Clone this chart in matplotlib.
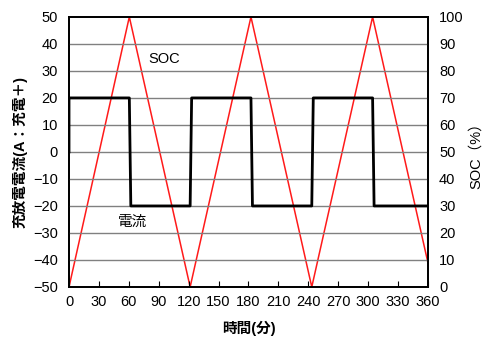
import matplotlib
matplotlib.use("Agg")
import matplotlib.pyplot as plt

plt.rcParams["font.family"] = ["Liberation Sans", "Noto Sans CJK JP", "DejaVu Sans"]

# time in minutes
t_soc = [0, 60.5, 121.5, 182.5, 243.5, 304.5, 360]
soc = [0, 100, 0, 100, 0, 100, 9]

t_cur = [0, 0, 60.5, 62, 121.5, 123, 182.5, 184, 243.5, 245, 304.5, 306, 360]
cur = [0, 20, 20, -20, -20, 20, 20, -20, -20, 20, 20, -20, -20]

x_ticks = list(range(0, 361, 30))
left_ticks = list(range(-50, 51, 10))
right_ticks = list(range(0, 101, 10))

fig = plt.figure(figsize=(4.87, 3.38), dpi=100)
ax = fig.add_axes([0.1417, 0.151, 0.737, 0.799])
ax2 = ax.twinx()

ax.set_zorder(ax2.get_zorder() + 1)
ax.patch.set_visible(False)

for y in left_ticks[1:-1]:
    ax.axhline(y, color="#808080", lw=1.0, zorder=0)

ax.plot(t_cur, cur, color="black", lw=2.0, zorder=3)
ax2.plot(t_soc, soc, color="#ff1a1a", lw=1.1)

ax.set_xlim(0, 360)
ax.set_ylim(-50, 50)
ax2.set_ylim(0, 100)
ax.set_xticks(x_ticks)
ax.set_yticks(left_ticks)
ax2.set_yticks(right_ticks)

ax.tick_params(axis="x", direction="in", length=4, width=0.8, labelsize=10.5, pad=6, colors="black")
ax.tick_params(axis="y", length=0, labelsize=10.5, pad=8)
ax2.tick_params(axis="y", length=0, labelsize=10.5, pad=8)

for a in (ax, ax2):
    for s in a.spines.values():
        s.set_linewidth(1.3)
        s.set_color("black")

ax.set_xlabel("時間(分)", fontsize=10.5, fontweight="bold", labelpad=8)
ax.set_ylabel("充放電電流(A：充電＋)", fontsize=10.5, fontweight="bold", labelpad=4)
ax2.set_ylabel("SOC（%）", fontsize=10.5, labelpad=4)

ax.text(95, 34.4, "SOC", fontsize=10.5, ha="center", va="center")
ax.text(64, -26, "電流", fontsize=10.5, ha="center", va="center")

fig.savefig("out.png", dpi=100)
